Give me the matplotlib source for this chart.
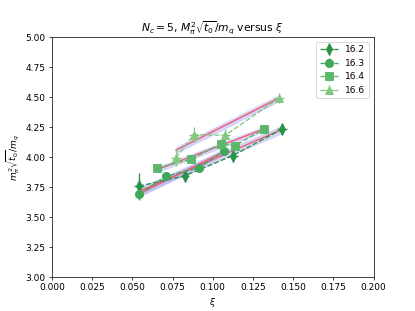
import matplotlib
matplotlib.use("Agg")
import matplotlib.pyplot as plt
import numpy as np

labels = ["16.2", "16.3", "16.4", "16.6"]
colors = ["#2a9148", "#3fa85b", "#5bb86b", "#80c97f"]
markers = ["d", "o", "s", "^"]

xi_162 = [0.0542, 0.0825, 0.1125, 0.1429]
y_162 = [3.756, 3.842, 4.011, 4.231]
e_162 = [0.11, 0.04, 0.05, 0.03]

xi_163 = [0.0544, 0.0710, 0.0913, 0.1069]
y_163 = [3.689, 3.839, 3.908, 4.050]
e_163 = [0.05, 0.02, 0.03, 0.03]

xi_164 = [0.0654, 0.0867, 0.1054, 0.1138, 0.1319]
y_164 = [3.906, 3.981, 4.111, 4.092, 4.233]
e_164 = [0.02, 0.02, 0.03, 0.03, 0.02]

xi_166 = [0.0771, 0.0883, 0.1079, 0.1413]
y_166 = [3.992, 4.186, 4.181, 4.492]
e_166 = [0.07, 0.06, 0.05, 0.04]

xerr_all = [0.003, 0.002, 0.0015, 0.003]

# fit curves
fx_162 = [0.0544, 0.1429]
fy_162 = [3.714, 4.228]
fx_163 = [0.0544, 0.1069]
fy_163 = [3.694, 4.042]
fx_164 = [0.0654, 0.1319]
fy_164 = [3.894, 4.233]
fx_166 = [0.0771, 0.1396]
fy_166 = [4.056, 4.480]
band = [0.035, 0.03, 0.025, 0.03]

data = [(xi_162, y_162, e_162), (xi_163, y_163, e_163),
        (xi_164, y_164, e_164), (xi_166, y_166, e_166)]
fits = [(fx_162, fy_162), (fx_163, fy_163), (fx_164, fy_164), (fx_166, fy_166)]

fig, ax = plt.subplots(figsize=(6.4, 4.8), dpi=64.85)

for (fx, fy), b in zip(fits, band):
    fx = np.array(fx); fy = np.array(fy)
    ax.fill_between(fx, fy - b, fy + b, color="#a8a8f2", alpha=0.5, lw=0)
    ax.plot(fx, fy, color="#ee5c6c", lw=1.5)

for (x, y, e), xe, lab, c, m in zip(data, xerr_all, labels, colors, markers):
    ax.errorbar(x, y, yerr=e, xerr=xe, fmt=m, ls="--", color=c, ms=9, lw=1.5, label=lab)

ax.set_xlim(0, 0.2)
ax.set_ylim(3.0, 5.0)
ax.set_xlabel(r"$\xi$")
ax.set_ylabel(r"$m_\pi^2\sqrt{t_0}/m_q$")
ax.set_title(r"$N_c=5$, $M_\pi^2\sqrt{t_0}/m_q$ versus $\xi$")
ax.legend(loc="upper right")
fig.savefig("out.png", dpi=64.85)
